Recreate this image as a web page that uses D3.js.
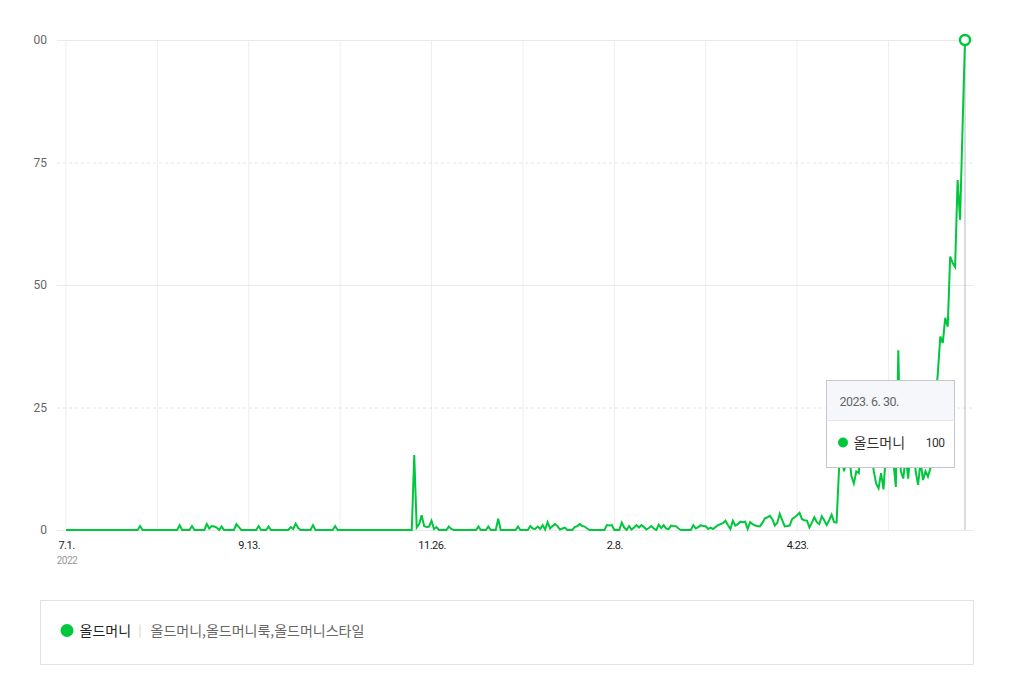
<!DOCTYPE html>
<html>
<head>
<meta charset="utf-8">
<script src="https://cdn.jsdelivr.net/npm/d3@7"></script>
<style>
  body { margin: 0; background: #fff; }
  svg { display: block; font-family: "Noto Sans CJK KR", "Noto Sans", sans-serif; }
</style>
</head>
<body>
<div id="chart"></div>
<script>
// keyword group
const seriesName = "올드머니";
const seriesKeywords = "올드머니,올드머니룩,올드머니스타일";
const startDay = "2022-07-01";
const endDay = "2023-06-30";

// daily relative search volume, 2022-07-01 .. 2023-06-30
const values = [
  0,0,0,0,0,0,0,0,0,0,
  0,0,0,0,0,0,0,0,0,0,
  0,0,0,0,0,0,0,0,0,0,
  0.8,0,0,0,0,0,0,0,0,0,
  0,0,0,0,0,0,1.0,0,0,0,
  0,0.8,0,0,0,0,0,1.2,0.3,0.8,
  0.7,0.5,0,0.7,0,0,0,0,0,1.2,
  0.6,0,0,0,0,0,0,0,0.8,0,
  0,0,0.7,0,0,0,0,0,0,0,
  0,0.6,0.2,1.3,0.4,0,0,0,0,0,
  1.0,0,0,0,0,0,0,0,0,0.8,
  0,0,0,0,0,0,0,0,0,0,
  0,0,0,0,0,0,0,0,0,0,
  0,0,0,0,0,0,0,0,0,0,
  0,15.3,0.5,1.2,3.0,0.8,0.6,0.7,1.9,0.2,
  0.6,0,0,0,0,0.7,0.2,0,0,0,
  0,0,0,0,0,0,0,0.7,0,0,
  0,0.7,0,0,0,2.3,0,0,0,0,
  0,0,0,0.7,0,0,0,0,0.8,0.3,
  0.2,0.7,0.2,1.0,0.1,1.6,0.3,0.8,1.2,0.8,
  0.1,0.3,0.5,0,0,0,0.6,0.8,1.2,0.8,
  0.7,0.3,0,0,0,0,0,0,0,1.0,
  0.9,1.0,0,0,0,1.5,0.5,0,0.8,0.1,
  0.5,1.0,0.5,1.0,0.6,0.1,0.4,0.8,0.3,0,
  1.1,0.4,1.0,0.3,0.2,0.9,0.8,0.75,0.3,0,
  0,0,0,0,1.0,0.3,0.6,1.0,0.8,0.75,
  0.2,0.5,0.2,0.6,1.0,1.2,1.4,1.9,1.0,0.2,
  1.9,0.9,1.2,1.7,1.6,1.7,0.2,1.6,1.2,0.9,
  0.8,0.75,1.5,2.4,2.6,2.9,2.2,0.9,1.5,3.3,
  2.0,0.75,0.8,0.9,2.2,2.6,3.0,3.5,2.2,2.0,
  1.9,0.5,1.5,2.6,1.6,1.2,2.8,2.0,1.0,2.0,
  3.1,1.6,1.5,12.5,15,12,14,16,11,9.5,
  12,11.6,18,15,20,14,17,12.2,9.5,8.5,
  11.6,8.3,16,14,18,14,8.8,36.7,12,10.5,
  15,10.5,17,20,12,9.2,14,10.2,12,10.9,
  12.6,22,26,32,39.5,38.2,43.3,41.5,55.8,54.5,
  53.7,71.4,63.3,82,100
];

const yTicks = [0, 25, 50, 75, 100];
const xTickDays = ["2022-07-01", "2022-09-13", "2022-11-26", "2023-02-08", "2023-04-23"];

const width = 1017, height = 679;
const green = "#00c73c";
const parse = d3.utcParse("%Y-%m-%d");
const dates = d3.utcDay.range(parse(startDay), d3.utcDay.offset(parse(endDay), 1));
const data = dates.map((d, i) => ({ date: d, value: values[i] }));

const x = d3.scaleUtc().domain([parse(startDay), parse(endDay)]).range([66, 965]);
const y = d3.scaleLinear().domain([0, 100]).range([530, 40]);

const svg = d3.select("#chart").append("svg")
    .attr("width", width)
    .attr("height", height);

// vertical grid every 37 days
const gridDates = d3.range(0, dates.length, 37).map(i => dates[i]);
svg.append("g").selectAll("line")
    .data(gridDates)
    .enter().append("line")
    .attr("x1", d => x(d)).attr("x2", d => x(d))
    .attr("y1", y(100)).attr("y2", y(0))
    .attr("stroke", "#eeeeee");

// horizontal grid, dashed at 25 / 75
svg.append("g").selectAll("line")
    .data(yTicks)
    .enter().append("line")
    .attr("x1", 57).attr("x2", 973)
    .attr("y1", d => y(d) + 0.5).attr("y2", d => y(d) + 0.5)
    .attr("stroke", d => d % 50 === 0 ? "#e9e9e9" : "#e4e4e4")
    .attr("stroke-dasharray", d => d % 50 === 0 ? null : "3,3");

// y labels (left edge clips the "1" of 100 like the original)
svg.append("clipPath").attr("id", "yclip")
    .append("rect").attr("x", 32).attr("y", 0).attr("width", 40).attr("height", height);
const yAxis = svg.append("g")
    .attr("clip-path", "url(#yclip)")
    .append("g")
    .attr("transform", "translate(47,0)")
    .call(d3.axisLeft(y).tickValues(yTicks).tickSize(0).tickPadding(0));
yAxis.select(".domain").remove();
yAxis.selectAll("text")
    .attr("fill", "#666")
    .style("font-family", "Roboto, sans-serif")
    .style("font-size", "12px");

// x labels
const xAxis = svg.append("g")
    .attr("transform", "translate(0,541)")
    .call(d3.axisBottom(x)
        .tickValues(xTickDays.map(parse))
        .tickSize(0).tickPadding(0)
        .tickFormat(d => (d.getUTCMonth() + 1) + "." + d.getUTCDate() + "."));
xAxis.select(".domain").remove();
xAxis.selectAll("text")
    .attr("fill", "#222")
    .style("font-family", "Roboto, sans-serif")
    .style("font-size", "11px")
    .style("letter-spacing", "-0.5px");
svg.append("text")
    .attr("x", x(parse(startDay)) + 1).attr("y", 564)
    .attr("text-anchor", "middle")
    .attr("fill", "#999")
    .style("font-family", "Roboto, sans-serif")
    .style("font-size", "10px")
    .style("letter-spacing", "-0.5px")
    .text(d3.utcFormat("%Y")(parse(startDay)));

// hover crosshair at the last point
const last = data[data.length - 1];
svg.append("line")
    .attr("x1", x(last.date)).attr("x2", x(last.date))
    .attr("y1", y(100)).attr("y2", y(0))
    .attr("stroke", "#b4bcc4");

// series line
svg.append("path")
    .datum(data)
    .attr("fill", "none")
    .attr("stroke", green)
    .attr("stroke-width", 2)
    .attr("d", d3.line().x(d => x(d.date)).y(d => y(d.value)));

svg.append("circle")
    .attr("cx", x(last.date)).attr("cy", y(last.value))
    .attr("r", 5)
    .attr("fill", "#fff")
    .attr("stroke", green)
    .attr("stroke-width", 2.5);

// tooltip
const tip = svg.append("g").attr("transform", "translate(826.5,380.5)");
tip.append("rect").attr("width", 128).attr("height", 87)
    .attr("fill", "#fff").attr("stroke", "#c4c8cc");
tip.append("rect").attr("x", 0.5).attr("y", 0.5).attr("width", 127).attr("height", 39)
    .attr("fill", "#f5f7fa");
tip.append("line").attr("x1", 0).attr("x2", 128).attr("y1", 40).attr("y2", 40)
    .attr("stroke", "#e1e4e8");
tip.append("text").attr("x", 13).attr("y", 25)
    .attr("fill", "#666")
    .style("font-family", "Roboto, sans-serif")
    .style("font-size", "12.5px")
    .style("letter-spacing", "-0.5px")
    .text(d3.utcFormat("%Y. %-m. %-d.")(last.date));
tip.append("circle").attr("cx", 16.5).attr("cy", 62).attr("r", 5).attr("fill", green);
tip.append("text").attr("x", 27).attr("y", 67)
    .attr("fill", "#333").style("font-size", "14px")
    .text(seriesName);
tip.append("text").attr("x", 118).attr("y", 66)
    .attr("text-anchor", "end")
    .attr("fill", "#333")
    .style("font-family", "Roboto, sans-serif")
    .style("font-size", "12px")
    .style("letter-spacing", "-0.5px")
    .text(last.value);

// legend
const legend = svg.append("g").attr("transform", "translate(40.5,600.5)");
legend.append("rect").attr("width", 933).attr("height", 64)
    .attr("fill", "#fff").attr("stroke", "#e2e2e2");
legend.append("circle").attr("cx", 26.5).attr("cy", 30).attr("r", 6.5).attr("fill", green);
legend.append("text").attr("x", 39).attr("y", 35)
    .attr("fill", "#222").style("font-size", "14px")
    .text(seriesName);
legend.append("line").attr("x1", 99.5).attr("x2", 99.5).attr("y1", 24).attr("y2", 37)
    .attr("stroke", "#d6d6d6");
legend.append("text").attr("x", 110).attr("y", 35)
    .attr("fill", "#666").style("font-size", "14px")
    .text(seriesKeywords);
</script>
</body>
</html>
